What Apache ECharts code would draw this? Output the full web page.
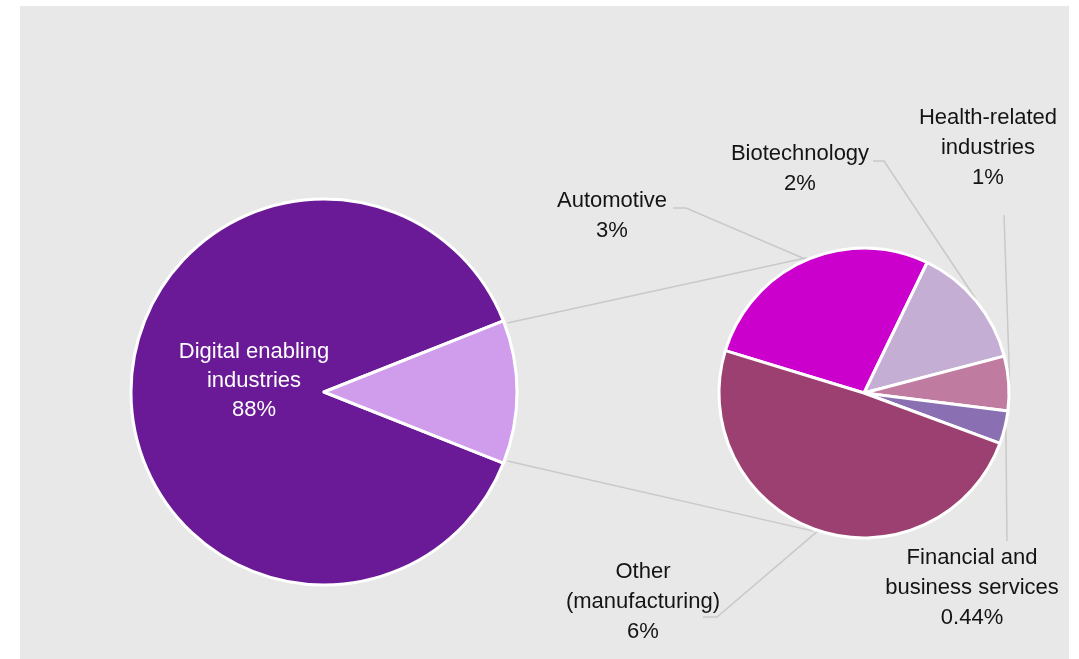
<!DOCTYPE html>
<html>
<head>
<meta charset="utf-8">
<script src="https://cdn.jsdelivr.net/npm/echarts@6/dist/echarts.min.js"></script>
<style>
  html, body { margin: 0; padding: 0; background: #ffffff; }
  #chart { width: 1079px; height: 659px; }
</style>
</head>
<body>
<div id="chart"></div>
<script>
// Share of industries (%) — main pie and breakdown of the remainder
const digitalName = 'Digital enabling\nindustries';
const digitalValue = 88;
const restName = 'Remaining industries';

const detailNames = [
  'Automotive',
  'Biotechnology',
  'Health-related\nindustries',
  'Financial and\nbusiness services',
  'Other\n(manufacturing)'
];
const detailValues = [3.3, 1.65, 0.73, 0.44, 5.9];

const mainColors = ['#6A1A96', '#D09CEC'];
const detailColors = ['#CC00CC', '#C5AED4', '#C07BA0', '#8A70B3', '#9B4070'];

// Layout of the two pies (pixels)
const BIG = { cx: 324, cy: 392, r: 193 };
const SMALL = { cx: 864, cy: 393, r: 145 };
const SMALL_START = 163;

// Where each breakdown label sits and where its leader line starts
const detailLabelSpots = [
  { x: 612, y: 216, lead: [[673, 208], [686, 208]] },
  { x: 800, y: 169, lead: [[873, 161], [884, 161]] },
  { x: 988, y: 148, lead: [[1004, 215]] },
  { x: 972, y: 588, lead: [[1007, 541]] },
  { x: 643, y: 602, lead: [[703, 617], [717, 617]] }
];
const digitalLabelSpot = { x: 254, y: 381 };

const restValue = detailValues.reduce((a, b) => a + b, 0);
const mainTotal = digitalValue + restValue;
const detailTotal = restValue;

// Rotate the main pie so the remainder slice faces the breakdown pie
const bigStart = -180 * restValue / mainTotal;
const restHalf = 180 * restValue / mainTotal;

const rad = d => d * Math.PI / 180;
const polar = (c, r, deg) => [c.cx + r * Math.cos(rad(deg)), c.cy - r * Math.sin(rad(deg))];

// Mid-angle of each breakdown slice (clockwise from SMALL_START)
const detailMid = [];
(function () {
  let cum = 0;
  detailValues.forEach(v => {
    detailMid.push(SMALL_START - 360 * (cum + v / 2) / detailTotal);
    cum += v;
  });
})();

// Whole percents, two decimals for shares under half a percent
const fmt = v => (v >= 0.5 ? Math.round(v) : v.toFixed(2)) + '%';

const lineColor = '#C9C9C9';
const textFont = '"Liberation Sans", Arial, sans-serif';

// Connectors from the remainder slice to the breakdown pie
const topA = polar(BIG, BIG.r + 3, restHalf - 1);
const botA = polar(BIG, BIG.r + 3, -restHalf + 1);
const topB = polar(SMALL, SMALL.r + 2, 113);
const botB = polar(SMALL, SMALL.r + 2, 250);

const chart = echarts.init(document.getElementById('chart'), null, { renderer: 'canvas' });

chart.setOption({
  backgroundColor: '#ffffff',
  animation: false,
  graphic: [
    { type: 'rect', z: 0, shape: { x: 20, y: 6, width: 1049, height: 653 }, style: { fill: '#E8E8E8' }, silent: true },
    { type: 'line', z: 1, shape: { x1: topA[0], y1: topA[1], x2: topB[0], y2: topB[1] }, style: { stroke: lineColor, lineWidth: 1.5 }, silent: true },
    { type: 'line', z: 1, shape: { x1: botA[0], y1: botA[1], x2: botB[0], y2: botB[1] }, style: { stroke: lineColor, lineWidth: 1.5 }, silent: true }
  ],
  series: [
    {
      type: 'pie',
      center: [BIG.cx, BIG.cy],
      radius: BIG.r,
      startAngle: bigStart,
      clockwise: true,
      avoidLabelOverlap: false,
      itemStyle: { borderColor: '#ffffff', borderWidth: 3 },
      label: {
        show: true,
        position: 'inside',
        color: '#ffffff',
        fontFamily: textFont,
        fontSize: 22,
        lineHeight: 29,
        align: 'center',
        formatter: p => p.name + '\n' + fmt(p.value)
      },
      labelLine: { show: false },
      labelLayout: p => p.dataIndex === 0
        ? { x: digitalLabelSpot.x, y: digitalLabelSpot.y, align: 'center', verticalAlign: 'middle' }
        : {},
      emphasis: { disabled: true },
      data: [
        { name: digitalName, value: digitalValue, itemStyle: { color: mainColors[0] } },
        { name: restName, value: restValue, itemStyle: { color: mainColors[1] }, label: { show: false } }
      ]
    },
    {
      type: 'pie',
      center: [SMALL.cx, SMALL.cy],
      radius: SMALL.r,
      startAngle: SMALL_START,
      clockwise: true,
      avoidLabelOverlap: false,
      itemStyle: { borderColor: '#ffffff', borderWidth: 3 },
      label: {
        show: true,
        position: 'outside',
        color: '#141414',
        fontFamily: textFont,
        fontSize: 22,
        lineHeight: 30,
        align: 'center',
        formatter: p => p.name + '\n' + fmt(p.value)
      },
      labelLine: { show: true, lineStyle: { color: lineColor, width: 1.5 } },
      labelLayout: p => {
        const spot = detailLabelSpots[p.dataIndex];
        const end = polar(SMALL, SMALL.r + 1, detailMid[p.dataIndex]);
        return {
          x: spot.x,
          y: spot.y,
          align: 'center',
          verticalAlign: 'middle',
          labelLinePoints: spot.lead.concat([end])
        };
      },
      emphasis: { disabled: true },
      data: detailNames.map((n, i) => ({ name: n, value: detailValues[i], itemStyle: { color: detailColors[i] } }))
    }
  ]
});
</script>
</body>
</html>
